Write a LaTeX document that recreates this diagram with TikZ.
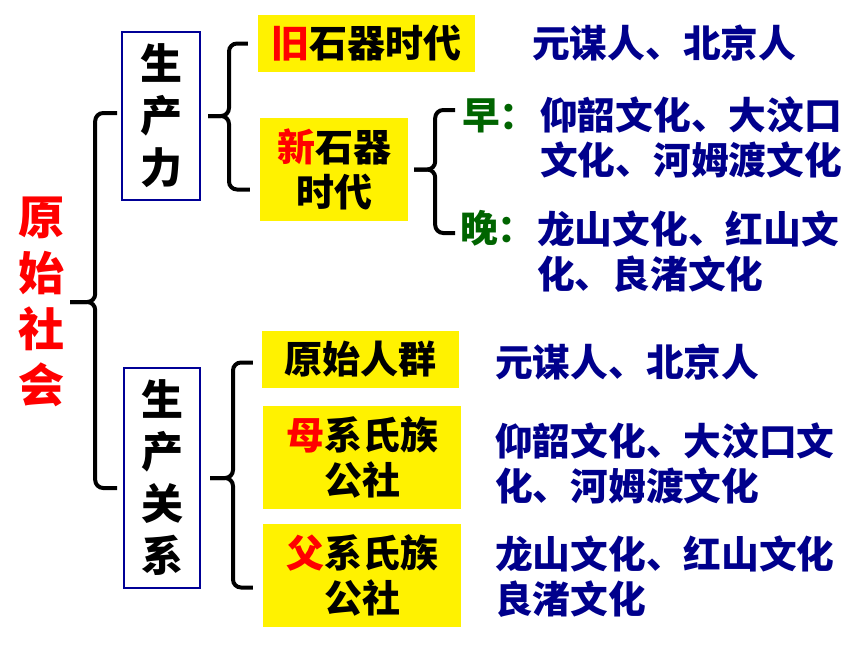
\documentclass[tikz,border=0pt]{standalone}
\usepackage{fontspec}
\newfontfamily\cjk{Noto Sans CJK SC}
\definecolor{boxblue}{RGB}{0,0,150}
\definecolor{sitenavy}{RGB}{0,0,140}
\definecolor{periodgreen}{RGB}{0,100,0}

\tikzset{
	brace/.style={line width=4pt, rounded corners=8pt},
	stackbox/.style={draw=boxblue, line width=2pt, inner sep=0pt, align=center, font=\cjk\bfseries\fontsize{42}{52}\selectfont},
	yellowbox/.style={fill=yellow, inner sep=0pt, align=center, font=\cjk\bfseries\fontsize{38}{45}\selectfont},
	site/.style={anchor=west, inner sep=0pt, align=left, text=sitenavy, font=\cjk\bfseries\fontsize{37.7}{45}\selectfont},
	period/.style={anchor=west, inner sep=0pt, text=periodgreen, font=\cjk\bfseries\fontsize{37.7}{45}\selectfont}
}

\begin{document}
\begin{tikzpicture}[x=1pt, y=-1pt]
	\useasboundingbox (0,0) rectangle (860,645);
	% left column
	\node [inner sep=0pt, align=center, text=red, font=\cjk\bfseries\fontsize{46}{56}\selectfont] (root) at (42,302) {原\\始\\社\\会};
	\node [stackbox, minimum width=78, minimum height=168] (pro) at (161,116) {生\\产\\力};
	\node [stackbox, minimum width=76, minimum height=220] (rel) at (162,478) {生\\产\\关\\系};
	% yellow boxes
	\node [yellowbox, minimum width=217, minimum height=57] (old) at (366.5,43.5) {\textcolor{red}{旧}石器时代};
	\node [yellowbox, minimum width=148, minimum height=103] (neo) at (334,169.5) {\textcolor{red}{新}石器\\时代};
	\node [yellowbox, minimum width=197, minimum height=57] (group) at (360.5,359.5) {原始人群};
	\node [yellowbox, minimum width=198, minimum height=103] (matri) at (362,457.5) {\textcolor{red}{母}系氏族\\公社};
	\node [yellowbox, minimum width=198, minimum height=103] (patri) at (362,575.5) {\textcolor{red}{父}系氏族\\公社};
	% sites
	\node [site] (oldsite) at (532,43) {元谋人、北京人};
	\node [period] (early) at (462,116) {早：};
	\node [site] (earlysite) at (540,137.5) {仰韶文化、大汶口\\文化、河姆渡文化};
	\node [period] (late) at (460,228) {晚：};
	\node [site] (latesite) at (537,251.5) {龙山文化、红山文\\化、良渚文化};
	\node [site] (groupsite) at (495,362) {元谋人、北京人};
	\node [site] (matrisite) at (495,463) {仰韶文化、大汶口文\\化、河姆渡文化};
	\node [site] (patrisite) at (495,576.5) {龙山文化、红山文化\\良渚文化};
	% braces
	\draw [brace] ([xshift=-4pt,yshift=3pt]pro.west) -| ([xshift=30pt]root.east) -- ([xshift=5pt]root.east);
	\draw [brace] ([xshift=-6pt,yshift=-10pt]rel.west) -| ([xshift=30pt]root.east) -- ([xshift=5pt]root.east);
	\draw [brace] ([xshift=-10pt]old.west) -| ([xshift=28pt]pro.east) -- ([xshift=7pt]pro.east);
	\draw [brace] ([xshift=-10pt,yshift=-20pt]neo.west) -| ([xshift=28pt]pro.east) -- ([xshift=7pt]pro.east);
	\draw [brace] ([xshift=-7pt,yshift=6pt]early.west) -| ([xshift=27pt]neo.east) -- ([xshift=6pt]neo.east);
	\draw [brace] ([xshift=-5pt,yshift=-5pt]late.west) -| ([xshift=27pt]neo.east) -- ([xshift=6pt]neo.east);
	\draw [brace] ([xshift=-9pt,yshift=-3pt]group.west) -| ([xshift=32pt]rel.east) -- ([xshift=9pt]rel.east);
	\draw [brace] ([xshift=-10pt,yshift=-12pt]patri.west) -| ([xshift=32pt]rel.east) -- ([xshift=9pt]rel.east);
\end{tikzpicture}
\end{document}
